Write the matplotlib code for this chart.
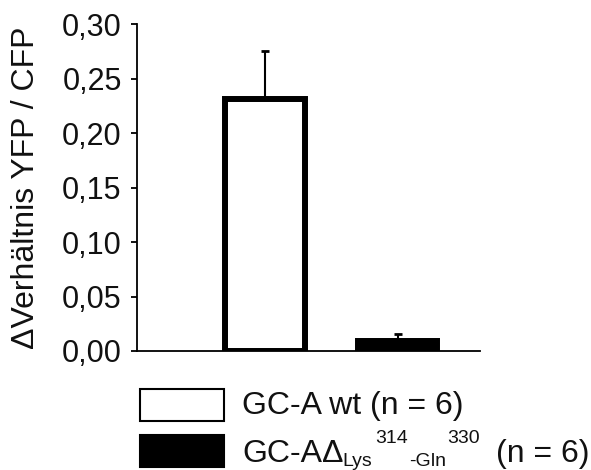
import matplotlib
matplotlib.use("Agg")
import matplotlib.pyplot as plt
from matplotlib.patches import Rectangle

plt.rcParams['font.family'] = ['Liberation Sans', 'DejaVu Sans']

categories = ["GC-A wt", "GC-A del"]
values = [0.231, 0.009]
errors = [0.044, 0.007]
face_colors = ["white", "black"]
yticks = [0.00, 0.05, 0.10, 0.15, 0.20, 0.25, 0.30]
ytick_labels = ["0,00", "0,05", "0,10", "0,15", "0,20", "0,25", "0,30"]
legend_label_1 = "GC-A wt (n = 6)"
# second legend label, in pieces: (text, size, x px, baseline y px)
legend_label_2 = [("GC-A\u0394", 23, 242, 462),
                  ("Lys", 14, 342, 466),
                  ("314", 14, 375, 443),
                  ("-Gln", 14, 409, 466),
                  ("330", 14, 447, 443),
                  ("(n = 6)", 23, 496, 462)]

W, H = 591, 470
fig = plt.figure(figsize=(W / 100, H / 100), dpi=100)
ax = fig.add_axes([137 / W, 1 - 351 / H, (480 - 137) / W, (351 - 24) / H])

x = list(range(len(categories)))
ax.bar(x, values, width=0.6, color=face_colors, edgecolor="black",
       linewidth=4.3, zorder=3)
for xi, v, e in zip(x, values, errors):
    ax.errorbar([xi], [v], yerr=[[0], [e]], fmt="none", ecolor="black",
                elinewidth=1.5, capsize=3, capthick=2, zorder=2)

ax.set_xlim(-0.96, 1.62)
ax.set_ylim(0, 0.30)
ax.set_yticks(yticks)
ax.set_yticklabels(ytick_labels, fontsize=22, color="#111111")
ax.set_xticks([])
for s in ["top", "right"]:
    ax.spines[s].set_visible(False)
ax.spines["left"].set_linewidth(1.3)
ax.spines["bottom"].set_linewidth(1.3)
ax.tick_params(axis="y", length=4, width=1.3, pad=7)
ax.set_ylabel("\u0394Verhältnis YFP / CFP", fontsize=23, labelpad=15,
              color="#111111")

# legend
box_x, box_w, box_h = 140 / W, 84 / W, 32 / H
rows_y = [1 - 421 / H, 1 - 467 / H]
for fc, ly in zip(face_colors, rows_y):
    fig.patches.append(Rectangle((box_x, ly), box_w, box_h, facecolor=fc,
                                 edgecolor="black", linewidth=1.5,
                                 transform=fig.transFigure, figure=fig))
fig.text(242 / W, 1 - 414 / H, legend_label_1, fontsize=23, va="baseline",
         ha="left", color="#111111")
for txt, size, px, py in legend_label_2:
    fig.text(px / W, 1 - py / H, txt, fontsize=size, va="baseline",
             ha="left", color="#111111")

fig.savefig("out.png", dpi=100)
